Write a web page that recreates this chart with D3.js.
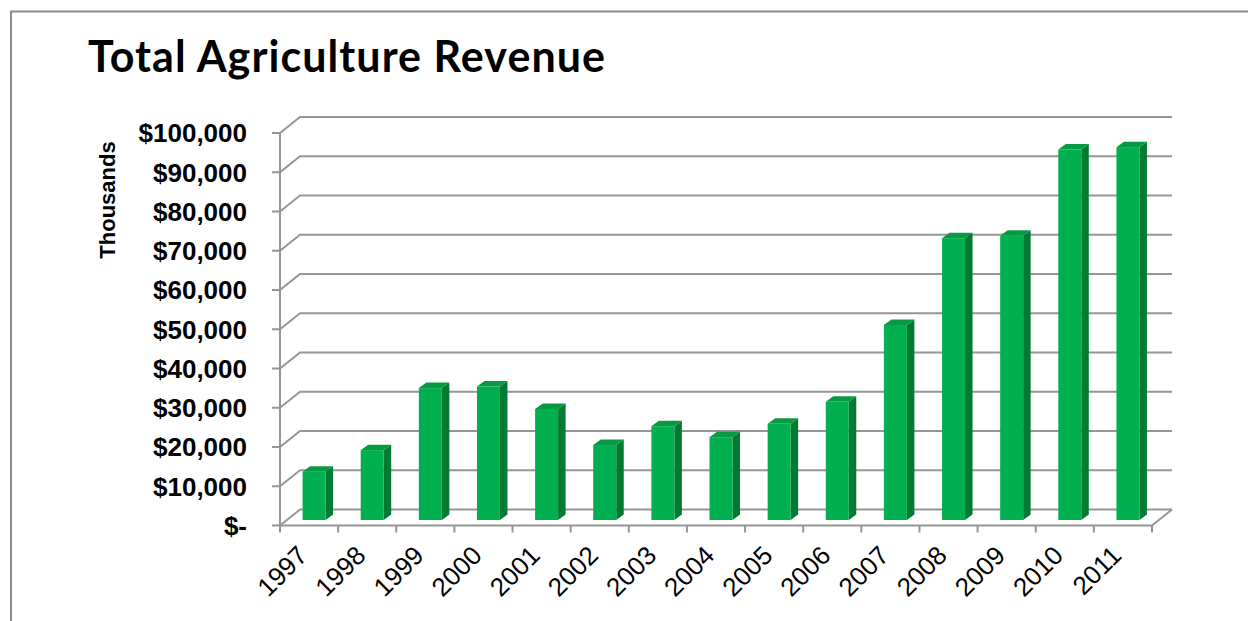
<!DOCTYPE html>
<html>
<head>
<meta charset="utf-8">
<script src="https://cdn.jsdelivr.net/npm/d3@7"></script>
<style>
  html, body { margin: 0; padding: 0; background: #fff; }
  svg { display: block; }
</style>
</head>
<body>
<svg id="chart" width="1248" height="621"></svg>
<script>
// Revenue by year, in thousands of dollars
const years = ["1997","1998","1999","2000","2001","2002","2003","2004","2005","2006","2007","2008","2009","2010","2011"];
const revenue = [12300, 17800, 33600, 34000, 28300, 19100, 23900, 21100, 24500, 30100, 49700, 71800, 72400, 94400, 95000];
const yTicks = [0, 10000, 20000, 30000, 40000, 50000, 60000, 70000, 80000, 90000, 100000];
const titleText = "Total Agriculture Revenue";
const axisTitle = "Thousands";

const svg = d3.select("#chart");

// outer frame (top and left edges visible)
svg.append("path")
  .attr("d", "M11,621V11.5H1248")
  .attr("fill", "none").attr("stroke", "#8a8a8a").attr("stroke-width", 2);

svg.append("text")
  .attr("x", 88).attr("y", 72)
  .attr("font-family", "Lato, 'Open Sans', sans-serif")
  .attr("font-weight", 700).attr("font-size", 43)
  .attr("textLength", 517).attr("lengthAdjust", "spacing")
  .attr("fill", "#000")
  .text(titleText);

// front plane geometry
const x0 = 280, x1 = 1152;
const x = d3.scaleBand().domain(years).range([x0, x1]).padding(0);
const y = d3.scaleLinear().domain([0, 100000]).range([525.5, 133]);

// 3D offsets: back wall, bar front plane, bar depth
const wall = { dx: 20, dy: -16 };
const barOff = { dx: 5, dy: -5.5 };
const barDepth = { dx: 7.5, dy: -5.5 };
const barW = 23;

const gridColor = "#959595";
const grid = svg.append("g").attr("fill", "none").attr("stroke", gridColor).attr("stroke-width", 2);

// gridlines: slant across the side wall, then run along the back wall
yTicks.forEach(v => {
  const yy = y(v);
  grid.append("path")
    .attr("d", `M${x0},${yy}L${x0 + wall.dx},${yy + wall.dy}H${x1 + wall.dx}`);
});
// floor right edge and front edge
grid.append("path")
  .attr("d", `M${x1 + wall.dx},${y(0) + wall.dy}L${x1},${y(0)}H${x0}`);
// vertical axis
grid.append("path").attr("d", `M${x0},${y(100000)}V${y(0)}`);
// y tick marks
yTicks.forEach(v => {
  grid.append("path").attr("d", `M${x0 - 8},${y(v)}H${x0}`);
});
// x tick marks at category boundaries
years.concat([null]).forEach((yr, i) => {
  const xx = x0 + i * x.step();
  grid.append("path").attr("d", `M${xx},${y(0)}V${y(0) + 7}`);
});

// y tick labels
const fmt = d3.format(",");
svg.append("g").selectAll("text").data(yTicks).join("text")
  .attr("x", 247).attr("y", d => y(d))
  .attr("dy", "0.36em")
  .attr("text-anchor", "end")
  .attr("font-family", "'Liberation Sans', Arial, sans-serif")
  .attr("font-weight", 700).attr("font-size", 26)
  .attr("fill", "#000")
  .text(d => d === 0 ? "$-" : "$" + fmt(d));

// axis title
svg.append("text")
  .attr("transform", `translate(115,200) rotate(-90)`)
  .attr("text-anchor", "middle")
  .attr("font-family", "'Liberation Sans', Arial, sans-serif")
  .attr("font-weight", 700).attr("font-size", 22)
  .attr("fill", "#000")
  .text(axisTitle);

// bars as simple 3D prisms
const bars = svg.append("g");
years.forEach((yr, i) => {
  const v = revenue[i];
  const bx = x(yr) + (x.bandwidth() - barW) / 2 + barOff.dx;
  const yt = y(v) + barOff.dy;
  const yb = y(0) + barOff.dy;
  const g = bars.append("g");
  // right side
  g.append("path")
    .attr("d", `M${bx + barW},${yt}L${bx + barW + barDepth.dx},${yt + barDepth.dy}L${bx + barW + barDepth.dx},${yb + barDepth.dy}L${bx + barW},${yb}Z`)
    .attr("fill", "#027a32");
  // top
  g.append("path")
    .attr("d", `M${bx},${yt}L${bx + barW},${yt}L${bx + barW + barDepth.dx},${yt + barDepth.dy}L${bx + barDepth.dx},${yt + barDepth.dy}Z`)
    .attr("fill", "#089a42");
  // front
  g.append("rect")
    .attr("x", bx).attr("y", yt)
    .attr("width", barW).attr("height", yb - yt)
    .attr("fill", "#00b050");
});

// rotated year labels
svg.append("g").selectAll("text").data(years).join("text")
  .attr("transform", d => `translate(${x(d) + x.bandwidth() / 2},${557}) rotate(-45)`)
  .attr("text-anchor", "end")
  .attr("font-family", "'Liberation Sans', Arial, sans-serif")
  .attr("font-size", 26)
  .attr("fill", "#000")
  .text(d => d);
</script>
</body>
</html>
